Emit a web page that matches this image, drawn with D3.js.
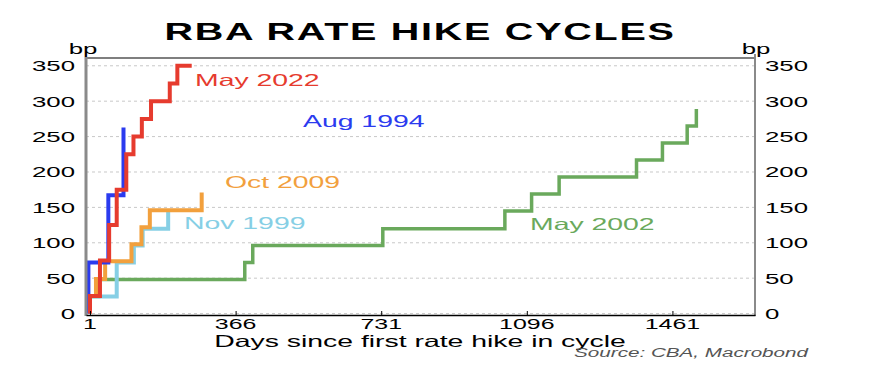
<!DOCTYPE html>
<html>
<head>
<meta charset="utf-8">
<script src="https://cdn.jsdelivr.net/npm/d3@7"></script>
<style>
  body { margin: 0; background: #fff; }
  text { font-family: "Liberation Sans", Arial, sans-serif; }
</style>
</head>
<body>
<div id="chart"></div>
<script>
// Step data: day since first hike, cumulative bp
const may2022Days = [1, 1, 26, 49, 68, 92, 110, 131, 154, 201, 220, 256]
const may2022Bp = [0, 25, 75, 125, 175, 225, 250, 275, 300, 325, 350, 350]

const aug1994Days = [-3, -3, 47, 85]
const aug1994Bp = [0, 72, 167, 263]

const oct2009Days = [1, 1, 16, 39, 105, 130, 151, 281]
const oct2009Bp = [0, 25, 49, 74, 98, 122, 146, 171]

const nov1999Days = [1, 1, 68, 111, 133, 197]
const nov1999Bp = [0, 24, 72, 96, 120, 144]

const may2002Days = [1, 1, 23, 389, 409, 735, 1041, 1108, 1177, 1371, 1436, 1498, 1521]
const may2002Bp = [0, 24, 48, 72, 96, 120, 145, 169, 193, 217, 241, 265, 289]

const xTicks = [1, 366, 731, 1096, 1461]
const yTicks = [0, 50, 100, 150, 200, 250, 300, 350]

// drawing order: first one sits at the bottom
const series = [
  { name: "May 2002", days: may2002Days, bp: may2002Bp, color: "#6aa95c", width: 3.5, lx: 530, ly: 230 },
  { name: "Nov 1999", days: nov1999Days, bp: nov1999Bp, color: "#86cfe5", width: 4, lx: 184, ly: 229 },
  { name: "Oct 2009", days: oct2009Days, bp: oct2009Bp, color: "#f2a03d", width: 4, lx: 225, ly: 188 },
  { name: "Aug 1994", days: aug1994Days, bp: aug1994Bp, color: "#2b3bef", width: 4, lx: 303, ly: 127 },
  { name: "May 2022", days: may2022Days, bp: may2022Bp, color: "#e63b2e", width: 4, lx: 195, ly: 86 }
]

const width = 888
const height = 388
const sx = 1.72 // text in the picture is stretched sideways

const x = d3.scaleLinear().domain([-9, 1668]).range([86, 755])
const y = d3.scaleLinear().domain([-2, 361]).range([315, 58])

const svg = d3.select("#chart").append("svg")
  .attr("width", width)
  .attr("height", height)

svg.append("rect").attr("width", width).attr("height", height).attr("fill", "#fff")

// little helper for the wide text
const label = (g, tx, ty, str, size, anchor) => g.append("text")
  .attr("transform", `translate(${tx},${ty}) scale(${sx},1)`)
  .attr("text-anchor", anchor || "start")
  .attr("font-size", size)
  .text(str)

// gridlines
svg.append("g")
  .selectAll("line")
  .data(yTicks)
  .join("line")
  .attr("x1", x.range()[0])
  .attr("x2", x.range()[1])
  .attr("y1", d => y(d))
  .attr("y2", d => y(d))
  .attr("stroke", "#c8c8c8")
  .attr("stroke-dasharray", "3,3")

// series
const line = d3.line()
  .x(d => x(d[0]))
  .y(d => y(d[1]))
  .curve(d3.curveStepAfter)

svg.append("g")
  .selectAll("path")
  .data(series)
  .join("path")
  .attr("fill", "none")
  .attr("stroke", d => d.color)
  .attr("stroke-width", d => d.width)
  .attr("stroke-linejoin", "miter")
  .attr("d", d => line(d.days.map((v, i) => [v, d.bp[i]])))

// frame: top border black, side axes grey, bottom axis black
svg.append("line").attr("x1", 86).attr("x2", 755).attr("y1", 58).attr("y2", 58)
  .attr("stroke", "#000").attr("stroke-width", 1.2)
svg.append("line").attr("x1", 86).attr("x2", 86).attr("y1", 57).attr("y2", 316)
  .attr("stroke", "#8a8a8a").attr("stroke-width", 3)
svg.append("line").attr("x1", 755).attr("x2", 755).attr("y1", 54).attr("y2", 316)
  .attr("stroke", "#8a8a8a").attr("stroke-width", 2)

const xAxis = svg.append("g")
  .attr("transform", `translate(0,${y.range()[0]})`)
  .call(d3.axisBottom(x).tickValues(xTicks).tickSizeInner(-4).tickSizeOuter(0).tickFormat(""))
xAxis.select(".domain").attr("stroke", "#000").attr("stroke-width", 1.6)
xAxis.selectAll(".tick line").attr("stroke", "#000")

// tick labels
const tl = svg.append("g").attr("fill", "#000")
xTicks.forEach(t => label(tl, x(t), 328.5, t, 14.5, "middle"))
yTicks.forEach(t => {
  label(tl, 75, y(t) + 5.5, t, 15, "end")
  label(tl, 765, y(t) + 5.5, t, 15, "start")
})
label(tl, 83, 54, "bp", 15, "middle")
label(tl, 756, 54, "bp", 15, "middle")

// series names
series.forEach(s => label(svg, s.lx, s.ly, s.name, 16.5).attr("fill", s.color))

// titles
label(svg, 420, 40, "RBA RATE HIKE CYCLES", 23, "middle")
  .attr("font-weight", "bold")
  .attr("letter-spacing", 1)
label(svg, 420, 347, "Days since first rate hike in cycle", 16.5, "middle")
label(svg, 808, 357, "Source: CBA, Macrobond", 12, "end")
  .attr("font-style", "italic")
  .attr("fill", "#555")
</script>
</body>
</html>
